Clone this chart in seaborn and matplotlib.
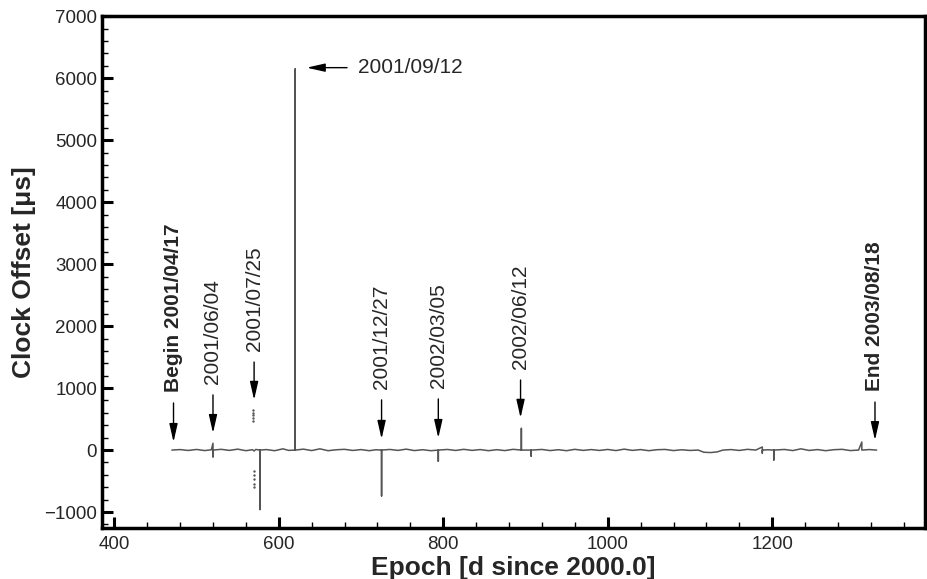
import matplotlib
matplotlib.use("Agg")
import matplotlib.pyplot as plt
import pandas as pd
import seaborn as sns
from matplotlib.ticker import MultipleLocator

sns.set_theme(
    style="ticks",
    rc={
        "xtick.direction": "in",
        "ytick.direction": "in",
        "axes.linewidth": 2.5,
    },
)
plt.rcParams["font.family"] = ["Liberation Sans", "DejaVu Sans"]

# clock offset series [epoch in days since 2000.0, offset in microseconds]
epoch_d = [
    470, 480, 490, 500, 510, 518, 520, 520, 520, 530,
    540, 550, 560, 568, 570, 572, 577, 577, 577, 585,
    595, 605, 612, 620, 620, 620, 630, 640, 650, 660,
    670, 680, 690, 700, 710, 718, 725, 725, 725, 735,
    745, 755, 765, 775, 785, 794, 794, 794, 805, 815,
    825, 835, 845, 855, 865, 875, 885, 895, 895, 895,
    907, 907, 907, 920, 930, 940, 950, 960, 970, 980,
    990, 1000, 1010, 1020, 1030, 1040, 1050, 1060, 1070, 1080,
    1090, 1100, 1110, 1117, 1125, 1133, 1140, 1150, 1160, 1170,
    1180, 1188, 1188, 1188, 1195, 1202, 1202, 1202, 1215, 1225,
    1235, 1245, 1255, 1265, 1275, 1285, 1295, 1305, 1309, 1309,
    1318, 1327,
]
offset_us = [
    0, 8, -6, 10, -8, 5, 110, -110, 0, 12,
    -5, 15, -10, 6, -15, 10, 0, -960, 0, 8,
    -10, 20, -5, 0, 6150, 0, 15, -8, 20, -10,
    5, 12, -6, 8, -10, 5, 0, -740, 0, 10,
    -5, 15, -8, 6, -10, 0, -180, 0, 10, -6,
    12, -5, 8, -10, 6, -8, 12, 0, 350, 0,
    0, -100, 0, 10, -8, 6, -10, 12, -5, 8,
    -6, 10, -8, 15, -5, 8, -10, 6, 10, -8,
    5, -6, 0, -35, -40, -30, 0, 8, -6, 12,
    0, 50, -50, 0, 5, 0, -160, 0, 10, -8,
    20, -6, 8, -10, 6, 12, -8, 0, 130, 0,
    8, 0,
]

# isolated outlier points near 2001/07/25
outlier_epoch = [569, 569, 569, 569, 569, 570, 570, 570, 570, 570]
outlier_us = [470, 510, 560, 600, 640, -330, -400, -470, -540, -600]

# event markers
event_labels = ["Begin 2001/04/17", "2001/06/04", "2001/07/25", "2001/12/27",
                "2002/03/05", "2002/06/12", "End 2003/08/18"]
event_epoch = [472, 520, 570, 725, 794, 894, 1325]
event_head = [130, 275, 810, 180, 195, 520, 160]
event_tail = [760, 890, 1420, 810, 825, 1130, 775]
event_bold = [True, False, False, False, False, False, True]

# 2001/09/12 event, marked with a horizontal arrow
sep_label = "2001/09/12"
sep_head = (634, 6170)
sep_tail = (683, 6170)

series = pd.DataFrame({"epoch": epoch_d, "offset": offset_us})
outliers = pd.DataFrame({"epoch": outlier_epoch, "offset": outlier_us})

fig, ax = plt.subplots(figsize=(9.27, 5.79), dpi=100)
fig.subplots_adjust(left=0.110, right=0.998, top=0.972, bottom=0.088)

sns.lineplot(data=series, x="epoch", y="offset", estimator=None, sort=False,
             color="#555555", linewidth=1.1, ax=ax)
sns.scatterplot(data=outliers, x="epoch", y="offset", color="#555555",
                s=3, linewidth=0, ax=ax)

arrow_kw = dict(arrowstyle="-|>,head_length=1.1,head_width=0.25",
                mutation_scale=10, color="black", lw=1, shrinkA=0, shrinkB=0)

for lab, x, yh, yt, bold in zip(event_labels, event_epoch, event_head,
                                event_tail, event_bold):
    ax.annotate("", xy=(x, yh), xytext=(x, yt), arrowprops=arrow_kw)
    ax.annotate(lab, xy=(x, yt), xytext=(0, 8), textcoords="offset points",
                rotation=90, ha="center", va="bottom", fontsize=15,
                fontweight="bold" if bold else "normal")

ax.annotate("", xy=sep_head, xytext=sep_tail, arrowprops=arrow_kw)
ax.annotate(sep_label, xy=sep_tail, xytext=(8, 0), textcoords="offset points",
            ha="left", va="center", fontsize=15)

ax.set_xlim(385, 1386)
ax.set_ylim(-1258, 7000)
ax.xaxis.set_major_locator(MultipleLocator(200))
ax.xaxis.set_minor_locator(MultipleLocator(40))
ax.yaxis.set_major_locator(MultipleLocator(1000))
ax.yaxis.set_minor_locator(MultipleLocator(200))
ax.tick_params(which="major", length=8, width=2.2, labelsize=13.5,
               color="black")
ax.tick_params(which="minor", length=4, width=1, color="black")
ax.tick_params(axis="x", which="major", pad=6)

ax.set_xlabel("Epoch [d since 2000.0]", fontsize=19, fontweight="bold",
              labelpad=2)
ax.set_ylabel("Clock Offset [μs]", fontsize=19, fontweight="bold",
              labelpad=6)
for s in ax.spines.values():
    s.set_color("black")

fig.savefig("out.png", dpi=100)
